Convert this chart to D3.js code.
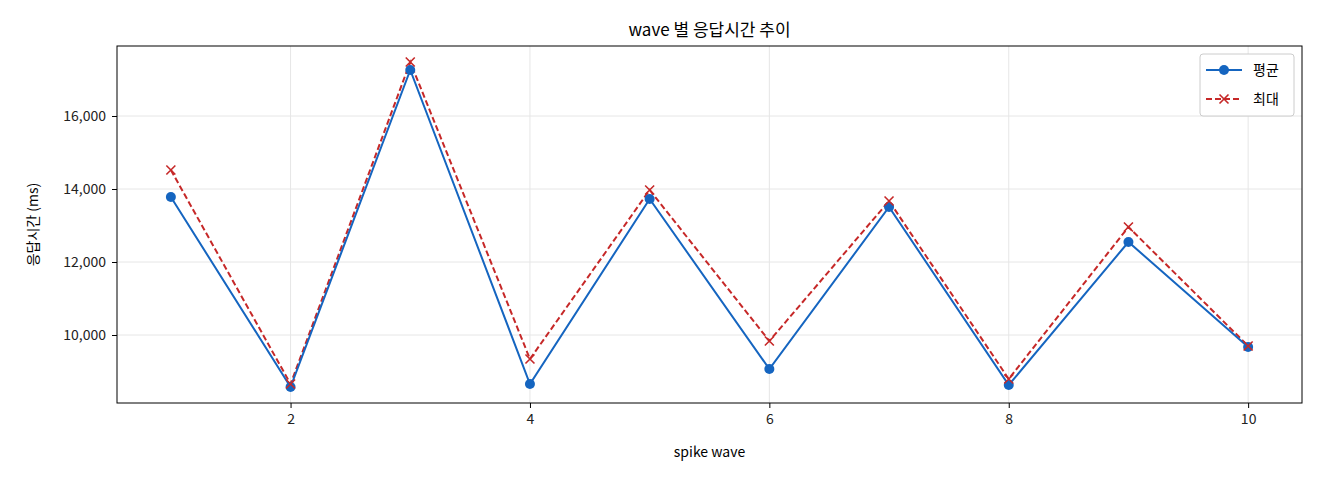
<!DOCTYPE html>
<html><head><meta charset="utf-8">
<script src="https://cdn.jsdelivr.net/npm/d3@7"></script>
<style>body{margin:0;background:#fff}text{font-family:"Noto Sans CJK KR","Noto Sans",sans-serif}</style>
</head><body>
<svg id="chart" width="1320" height="480"></svg>
<script>
let waves = [1,2,3,4,5,6,7,8,9,10]
let avgValues = [13781,8575,17260,8658,13726,9068,13507,8630,12548,9671]
let maxValues = [14521,8658,17479,9342,13973,9836,13671,8795,12959,9700]
let xTicks = [2,4,6,8,10]
let yTicks = [10000,12000,14000,16000]

let svg = d3.select('#chart')
let plotLeft = 117, plotRight = 1302, plotTop = 46, plotBottom = 403

let x = d3.scaleLinear().domain([0.55,10.45]).range([plotLeft,plotRight])
let y = d3.scaleLinear().domain([8137,17918]).range([plotBottom,plotTop])

// grid
svg.append('g').selectAll('line').data(xTicks).enter().append('line')
    .attr('x1', d => x(d)).attr('x2', d => x(d)).attr('y1', plotTop).attr('y2', plotBottom)
    .attr('stroke', '#e6e6e6')
svg.append('g').selectAll('line').data(yTicks).enter().append('line')
    .attr('y1', d => y(d)).attr('y2', d => y(d)).attr('x1', plotLeft).attr('x2', plotRight)
    .attr('stroke', '#e6e6e6')

let xAxis = svg.append('g').attr('transform', 'translate(0,' + plotBottom + ')')
    .call(d3.axisBottom(x).tickValues(xTicks).tickSize(5).tickPadding(6))
let yAxis = svg.append('g').attr('transform', 'translate(' + plotLeft + ',0)')
    .call(d3.axisLeft(y).tickValues(yTicks).tickSize(5).tickPadding(6))
;[xAxis, yAxis].forEach(a => {
    a.selectAll('text').attr('font-size', 14).attr('fill', '#222')
    a.select('.domain').remove()
})

svg.append('rect').attr('x', plotLeft).attr('y', plotTop).attr('width', plotRight-plotLeft).attr('height', plotBottom-plotTop)
    .attr('fill', 'none').attr('stroke', '#000').attr('stroke-width', 1)

let line = d3.line().x((d,i) => x(waves[i])).y(d => y(d))

svg.append('path').datum(maxValues).attr('d', line).attr('fill', 'none')
    .attr('stroke', '#c62828').attr('stroke-width', 2).attr('stroke-dasharray', '6,3')
svg.append('path').datum(avgValues).attr('d', line).attr('fill', 'none')
    .attr('stroke', '#1565c0').attr('stroke-width', 2)

svg.append('g').selectAll('circle').data(avgValues).enter().append('circle')
    .attr('cx', (d,i) => x(waves[i])).attr('cy', d => y(d)).attr('r', 5).attr('fill', '#1565c0')

let cross = (g, cx, cy) => {
    g.append('path').attr('d', `M${cx-4.5},${cy-4.5}L${cx+4.5},${cy+4.5}M${cx-4.5},${cy+4.5}L${cx+4.5},${cy-4.5}`)
        .attr('stroke', '#c62828').attr('stroke-width', 1.6)
}
let crosses = svg.append('g')
maxValues.forEach((d,i) => cross(crosses, x(waves[i]), y(d)))

// title & labels
svg.append('text').attr('x', (plotLeft+plotRight)/2).attr('y', 36).attr('text-anchor', 'middle')
    .attr('font-size', 17).text('wave 별 응답시간 추이')
svg.append('text').attr('x', (plotLeft+plotRight)/2).attr('y', 457).attr('text-anchor', 'middle')
    .attr('font-size', 14).text('spike wave')
svg.append('text').attr('transform', 'translate(38,' + (plotTop+plotBottom)/2 + ') rotate(-90)')
    .attr('text-anchor', 'middle').attr('font-size', 14).text('응답시간 (ms)')

// legend
let lg = svg.append('g')
lg.append('rect').attr('x', 1200).attr('y', 54).attr('width', 94).attr('height', 62).attr('rx', 3)
    .attr('fill', '#fff').attr('stroke', '#ccc')
lg.append('line').attr('x1', 1206).attr('x2', 1242).attr('y1', 70).attr('y2', 70).attr('stroke', '#1565c0').attr('stroke-width', 2)
lg.append('circle').attr('cx', 1224).attr('cy', 70).attr('r', 5).attr('fill', '#1565c0')
lg.append('line').attr('x1', 1206).attr('x2', 1242).attr('y1', 99).attr('y2', 99).attr('stroke', '#c62828')
    .attr('stroke-width', 2).attr('stroke-dasharray', '6,3')
cross(lg, 1224, 99)
lg.append('text').attr('x', 1253).attr('y', 75).attr('font-size', 14).text('평균')
lg.append('text').attr('x', 1253).attr('y', 104).attr('font-size', 14).text('최대')
</script>
</body></html>
